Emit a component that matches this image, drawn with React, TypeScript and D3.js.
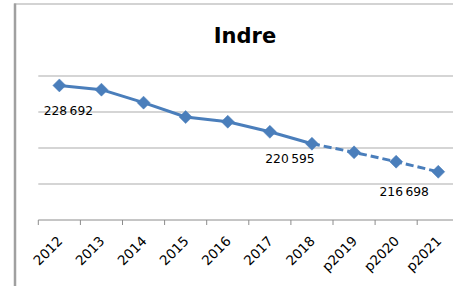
import React, { useRef, useEffect } from 'react';
import * as d3 from 'd3';

// Population de l'Indre (p = projection)
const years = ['2012', '2013', '2014', '2015', '2016', '2017', '2018', 'p2019', 'p2020', 'p2021'];
const population = [228692, 228100, 226300, 224300, 223650, 222250, 220595, 219400, 218100, 216698];
const gridValues = [215000, 220000, 225000, 230000];
const labelledYears = ['2012', '2018', 'p2021'];
const lastObserved = '2018';

// décalage des étiquettes par rapport au point
const labelOffsets: Record<string, [number, number]> = {
  '2012': [9, 30],
  '2018': [-22, 19],
  'p2021': [-34, 24],
};

const fmt = (v: number) => d3.format(',')(v).replace(',', '\u2009');

export default function App() {
  const svgRef = useRef<SVGSVGElement>(null);

  useEffect(() => {
    if (!svgRef.current) return;
    const svg = d3.select(svgRef.current);
    svg.selectAll('*').remove();

    const width = 453;
    const height = 286;
    const blue = '#4a7ebb';

    svg.append('rect').attr('width', width).attr('height', height).attr('fill', '#fff');

    // cadre
    svg.append('line')
      .attr('x1', 14).attr('x2', width).attr('y1', 4).attr('y2', 4)
      .attr('stroke', '#c4c4c4').attr('stroke-width', 1.5);
    svg.append('line')
      .attr('x1', 15).attr('x2', 15).attr('y1', 3.5).attr('y2', height)
      .attr('stroke', '#a0a0a0').attr('stroke-width', 2.5);

    // titre
    svg.append('text')
      .attr('x', 245).attr('y', 43)
      .attr('text-anchor', 'middle')
      .style('font-family', 'DejaVu Sans')
      .style('font-weight', 'bold')
      .style('font-size', '21px')
      .attr('fill', '#000')
      .text('Indre');

    const x = d3.scaleBand<string>().domain(years).range([38.3, 38.3 + 42.1 * years.length]);
    const y = d3.scaleLinear().domain([210000, 230000]).range([220, 76]);
    const cx = (d: string) => (x(d) ?? 0) + x.bandwidth() / 2;

    // grille
    svg.append('g')
      .selectAll('line')
      .data(gridValues)
      .enter()
      .append('line')
      .attr('x1', 38.3).attr('x2', width)
      .attr('y1', d => y(d)).attr('y2', d => y(d))
      .attr('stroke', '#ababab').attr('stroke-width', 1);

    // axe des abscisses
    const axis = svg.append('g').attr('transform', `translate(0,${y(210000)})`);
    axis.append('line')
      .attr('x1', 38.3).attr('x2', width)
      .attr('stroke', '#8c8c8c').attr('stroke-width', 1);
    axis.selectAll('.tick')
      .data(years)
      .enter()
      .append('line')
      .attr('x1', d => x(d) ?? 0).attr('x2', d => x(d) ?? 0)
      .attr('y1', 0).attr('y2', 5)
      .attr('stroke', '#8c8c8c').attr('stroke-width', 1);
    axis.selectAll('.lbl')
      .data(years)
      .enter()
      .append('text')
      .attr('transform', d => `translate(${cx(d) + 4},${22}) rotate(-45)`)
      .attr('text-anchor', 'end')
      .style('font-family', 'DejaVu Sans')
      .style('font-size', '13.5px')
      .attr('fill', '#000')
      .text(d => d);

    const pts = years.map((d, i) => ({ year: d, value: population[i] }));
    const split = years.indexOf(lastObserved);
    const line = d3.line<{ year: string; value: number }>()
      .x(d => cx(d.year))
      .y(d => y(d.value));

    svg.append('path')
      .datum(pts.slice(0, split + 1))
      .attr('d', line)
      .attr('fill', 'none')
      .attr('stroke', blue)
      .attr('stroke-width', 3)
      .attr('stroke-linejoin', 'round');
    svg.append('path')
      .datum(pts.slice(split))
      .attr('d', line)
      .attr('fill', 'none')
      .attr('stroke', blue)
      .attr('stroke-width', 3)
      .attr('stroke-dasharray', '8,4');

    // marqueurs en losange
    svg.append('g')
      .selectAll('path')
      .data(pts)
      .enter()
      .append('path')
      .attr('transform', d => `translate(${cx(d.year)},${y(d.value)})`)
      .attr('d', 'M0,-6.5L6.5,0L0,6.5L-6.5,0Z')
      .attr('fill', blue)
      .attr('stroke', blue)
      .attr('stroke-width', 0.5);

    // étiquettes de données
    svg.append('g')
      .selectAll('text')
      .data(pts.filter(d => labelledYears.includes(d.year)))
      .enter()
      .append('text')
      .attr('x', d => cx(d.year) + labelOffsets[d.year][0])
      .attr('y', d => y(d.value) + labelOffsets[d.year][1])
      .attr('text-anchor', 'middle')
      .style('font-family', 'DejaVu Sans')
      .style('font-size', '12.3px')
      .attr('fill', '#000')
      .text(d => fmt(d.value));
  }, []);

  return (
    <svg
      ref={svgRef}
      width={453}
      height={286}
      style={{ position: 'absolute', top: 0, left: 0, display: 'block' }}
    />
  );
}
